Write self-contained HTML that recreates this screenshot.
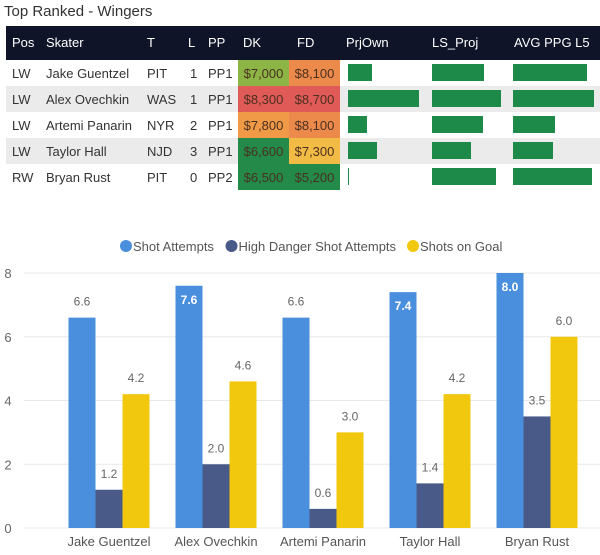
<!DOCTYPE html>
<html><head><meta charset="utf-8"><style>
body{margin:0;width:600px;height:555px;background:#fff;font-family:"Liberation Sans",sans-serif;position:relative;overflow:hidden}
.t{position:absolute;white-space:nowrap}
</style></head><body>
<div class="t" style="left:4px;top:3px;font-size:15px;color:#333">Top Ranked - Wingers</div>
<svg id="tbl" width="600" height="200" style="position:absolute;left:0;top:0"></svg>
<svg id="chart" width="600" height="555" style="position:absolute;left:0;top:0"></svg>
<script>
const pos=["LW","LW","LW","LW","RW"];
const skaters=["Jake Guentzel","Alex Ovechkin","Artemi Panarin","Taylor Hall","Bryan Rust"];
const teams=["PIT","WAS","NYR","NJD","PIT"];
const lines=["1","1","2","3","0"];
const pps=["PP1","PP1","PP1","PP1","PP2"];
const dk=["$7,000","$8,300","$7,800","$6,600","$6,500"];
const fd=["$8,100","$8,700","$8,100","$7,300","$5,200"];
const dkColors=["#8db545","#e05a57","#f09a48","#238a4a","#238a4a"];
const fdColors=["#ec8a4c","#e05a57","#ec8a4c","#f2bb45","#238a4a"];
const prjOwn=[24,71,19,29,1];
const lsProj=[52,69,51,39,64];
const avgPpg=[74,81,42,40,79];

const categories=["Jake Guentzel","Alex Ovechkin","Artemi Panarin","Taylor Hall","Bryan Rust"];
const shotAttempts=[6.6,7.6,6.6,7.4,8.0];
const highDanger=[1.2,2.0,0.6,1.4,3.5];
const shotsOnGoal=[4.2,4.6,3.0,4.2,6.0];
const yTicks=[0,2,4,6,8];

const NS="http://www.w3.org/2000/svg";
function mk(p,tag,a,txt){const e=document.createElementNS(NS,tag);for(const k in a)e.setAttribute(k,a[k]);if(txt!==undefined)e.textContent=txt;p.appendChild(e);return e;}

// table
const T=document.getElementById('tbl');
let h=mk(T,'rect',{x:6,y:26,width:594,height:34,fill:'#0f1428'});


const heads=[["Pos",12],["Skater",46],["T",147],["L",188],["PP",208],["DK",243],["FD",297],["PrjOwn",346],["LS_Proj",432],["AVG PPG L5",514]];
heads.forEach(([n,x])=>{const e=mk(T,'text',{x:x,y:47,fill:'#fff','font-size':13},n);

});
function bar(x0,val,y,name){const r=mk(T,'rect',{x:x0,y:y+4,width:val,height:17,fill:'#1e8a4a'});

}
for(let i=0;i<5;i++){
 const y=60+i*26;
 if(i%2==1){const g=mk(T,'rect',{x:6,y:y,width:594,height:26,fill:'#ebebeb'});
 
 }
 const ty=y+18;
 [[pos[i],12],[skaters[i],46],[teams[i],147],[lines[i],190],[pps[i],208]].forEach(([v,x])=>{const e=mk(T,'text',{x:x,y:ty,fill:'#333','font-size':13},v);
 
 });
 const c1=mk(T,'rect',{x:238,y:y,width:51,height:26,fill:dkColors[i]});
 
 
 const c2=mk(T,'rect',{x:289,y:y,width:51,height:26,fill:fdColors[i]});
 
 
 const t1=mk(T,'text',{x:263.5,y:ty,fill:'#4a3020','font-size':13,'text-anchor':'middle'},dk[i]);
 
 
 const t2=mk(T,'text',{x:314.5,y:ty,fill:'#4a3020','font-size':13,'text-anchor':'middle'},fd[i]);
 
 
 bar(348,prjOwn[i],y,'prjown-bar');
 bar(432,lsProj[i],y,'ls-proj-bar');
 bar(513,avgPpg[i],y,'avg-ppg-bar');
}

// chart
const C=document.getElementById('chart');
const y0=528,yPer=(528-273)/8;
const ys=v=>y0-v*yPer;
const band=107,xStart=55.5,bw=27;
yTicks.forEach(v=>{const l=mk(C,'line',{x1:24,x2:600,y1:ys(v),y2:ys(v),stroke:'#e8e8e8'});


const t=mk(C,'text',{x:8,y:ys(v)+5,fill:'#666','font-size':13,'text-anchor':'middle'},v);

});
const series=[[shotAttempts,'#4a8fdd','shot-attempts'],[highDanger,'#4a5a88','high-danger'],[shotsOnGoal,'#f2c80f','shots-on-goal']];
categories.forEach((c,i)=>{
 const cx=xStart+band*(i+0.5);
 const t=mk(C,'text',{x:cx,y:546,fill:'#555','font-size':13,'text-anchor':'middle'},c);
 
 
 series.forEach(([arr,col,nm],s)=>{
  const x=cx-1.5*bw+s*bw,v=arr[i];
  const r=mk(C,'rect',{x:x,y:ys(v),width:bw,height:y0-ys(v),fill:col});
  
  
  const inside=(s==0&&v>=7);
  const lb=mk(C,'text',{x:x+bw/2,y:inside?ys(v)+18:ys(v)-12,fill:inside?'#fff':'#666','font-size':12,'font-weight':inside?'bold':'normal','text-anchor':'middle'},v.toFixed(1));
  
  
 });
});
const leg=[["Shot Attempts",126,'#4a8fdd'],["High Danger Shot Attempts",231.5,'#4a5a88'],["Shots on Goal",413,'#f2c80f']];
leg.forEach(([n,x,col])=>{const c=mk(C,'circle',{cx:x,cy:246,r:6,fill:col});


const t=mk(C,'text',{x:x+7,y:251,fill:'#555','font-size':13},n);

});
</script>
</body></html>
